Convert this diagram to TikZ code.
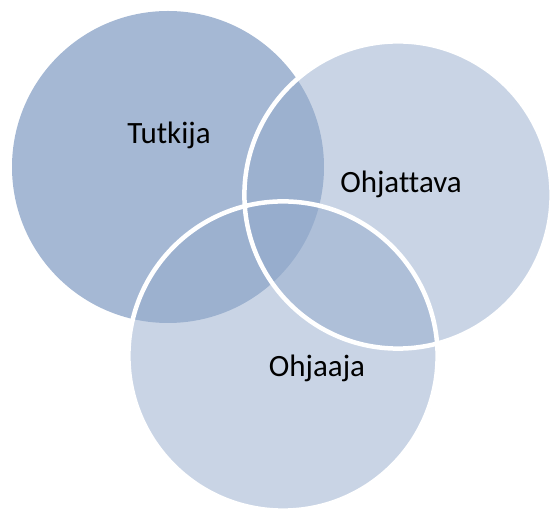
\documentclass[tikz,border=0pt]{standalone}
\usepackage{fontspec}
\setmainfont{Carlito}[Ligatures=NoCommon]
\definecolor{venn}{RGB}{147,170,203}

\begin{document}
\begin{tikzpicture}[x=1pt,y=1pt]

        \useasboundingbox (0,0) rectangle (550,511);

        \begin{scope}[every node/.style={circle,inner sep=0pt,fill=venn}]
          \node[minimum size=312pt,fill opacity=.83] (0) at (168,344) {};
          \node[minimum size=310pt,fill opacity=.5]  (1) at (398,316) {};
          \node[minimum size=312pt,fill opacity=.5]  (2) at (283,155) {};
        \end{scope}

        \begin{scope}[every path/.style={draw=white,line width=4.5pt}]
          \path (1.center) circle (153.6pt);
          \path (2.center) circle (154.6pt);
        \end{scope}

        \begin{scope}[every node/.style={anchor=base,font=\fontsize{31}{37}\selectfont}]
          \node (tutkija)   at (169,367) {Tutkija};
          \node (ohjattava) at (401,318) {Ohjattava};
          \node (ohjaaja)   at (317,134) {Ohjaaja};
        \end{scope}

      \end{tikzpicture}
\end{document}
